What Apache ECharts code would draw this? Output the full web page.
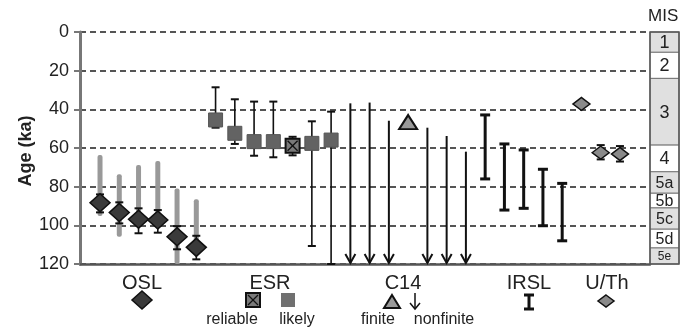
<!DOCTYPE html>
<html><head><meta charset="utf-8">
<script src="https://cdn.jsdelivr.net/npm/echarts@6/dist/echarts.min.js"></script>
<style>html,body{margin:0;padding:0;background:#fff}#c{width:691px;height:327px}</style>
</head><body><div id="c"></div>
<script>
// ---- data ----
const yTicks = [0, 20, 40, 60, 80, 100, 120];
const yTitle = 'Age (ka)';
const methods = ['OSL', 'ESR', 'C14', 'IRSL', 'U/Th'];
// OSL (slot index = sample position along the x axis)
const oslSlot = [0, 1, 2, 3, 4, 5];
const oslAge = [88.3, 93.3, 96.9, 97.3, 105.9, 111.4];
const oslErrLo = [84.0, 88.1, 91.2, 92.1, 100.4, 105.4];
const oslErrHi = [93.3, 99.0, 104.1, 103.8, 112.4, 117.6];
const oslRangeLo = [63.6, 73.6, 68.8, 66.7, 80.9, 86.5];
const oslRangeHi = [95.2, 105.9, 97.0, 98.0, 120.0, 110.0];
// ESR
const esrSlot = [6, 7, 8, 9, 10, 11, 12];
const esrAge = [45.5, 52.4, 56.7, 56.7, 58.8, 57.6, 55.9];
const esrErrLo = [28.6, 34.8, 36.0, 36.0, 54.2, 46.2, 41.2];
const esrErrHi = [49.5, 57.9, 64.0, 64.8, 63.8, 110.7, 120.0];
const esrReliable = [false, false, false, false, true, false, false];
// C14
const c14NonfiniteSlot = [13, 14, 15, 17, 18, 19];
const c14NonfiniteMin = [36.9, 36.5, 45.9, 49.5, 53.8, 61.9];
const c14FiniteSlot = [16];
const c14FiniteAge = [46.6];
// IRSL
const irslSlot = [20, 21, 22, 23, 24];
const irslLo = [42.9, 57.9, 61.0, 71.0, 78.3];
const irslHi = [76.0, 92.1, 91.2, 100.2, 108.0];
// U/Th
const uthSlot = [25, 26, 27];
const uthAge = [37.2, 62.4, 63.1];
const uthErrLo = [null, 58.5, 59.0];
const uthErrHi = [null, 65.9, 67.0];
// MIS stages
const misStages = ['1', '2', '3', '4', '5a', '5b', '5c', '5d', '5e'];
const misBounds = [0, 10.5, 24, 58.5, 72.3, 83.4, 91, 102, 111.7, 120];
const misShaded = [true, false, true, false, true, false, true, false, true];

// ---- build ----
const FONT = 'Liberation Sans, Arial, sans-serif';
const chart = echarts.init(document.getElementById('c'), null, {renderer: 'canvas'});

function errRows(slots, lo, hi) {
  const r = [];
  slots.forEach((s, i) => { if (lo[i] != null) r.push([s, lo[i], hi[i]]); });
  return r;
}
function makeErr(lw, capW, capLw) {
  return function (params, api) {
    const x = api.value(0);
    const p1 = api.coord([x, api.value(1)]), p2 = api.coord([x, api.value(2)]);
    const st = {stroke: '#111', lineWidth: lw};
    const cs = {stroke: '#111', lineWidth: capLw};
    return {type: 'group', children: [
      {type: 'line', shape: {x1: p1[0], y1: p1[1], x2: p2[0], y2: p2[1]}, style: st},
      {type: 'line', shape: {x1: p1[0] - capW / 2, y1: p1[1], x2: p1[0] + capW / 2, y2: p1[1]}, style: cs},
      {type: 'line', shape: {x1: p2[0] - capW / 2, y1: p2[1], x2: p2[0] + capW / 2, y2: p2[1]}, style: cs}
    ]};
  };
}

const thinErr = errRows(oslSlot, oslErrLo, oslErrHi)
  .concat(errRows(esrSlot, esrErrLo, esrErrHi))
  .concat(errRows(uthSlot, uthErrLo, uthErrHi));

function label(text, x, y, fs) {
  return {type: 'text', x: x, y: y, style: {text: text, fontSize: fs, fontFamily: FONT, fill: '#222', align: 'center', verticalAlign: 'middle'}};
}

const option = {
  animation: false,
  grid: {left: 80, right: 41, top: 32, bottom: 63},
  xAxis: {
    type: 'value', min: -1.04, max: 28.56,
    axisLine: {show: true, onZero: false, lineStyle: {color: '#555', width: 2.5}},
    axisTick: {show: false}, axisLabel: {show: false}, splitLine: {show: false}
  },
  yAxis: {
    type: 'value', inverse: true, min: yTicks[0], max: yTicks[yTicks.length - 1], interval: 20,
    axisLine: {show: true, onZero: false, lineStyle: {color: '#777', width: 3}},
    axisTick: {show: true, length: 6, lineStyle: {color: '#777', width: 2}},
    axisLabel: {fontSize: 18, color: '#222', margin: 11, fontFamily: FONT},
    splitLine: {show: true, lineStyle: {color: '#555', width: 2, type: [6, 4]}}
  },
  series: [
    { // OSL grey ranges
      type: 'custom', data: oslSlot.map((s, i) => [s, oslRangeLo[i], oslRangeHi[i]]),
      renderItem: function (params, api) {
        const x = api.value(0);
        const p1 = api.coord([x, api.value(1)]), p2 = api.coord([x, api.value(2)]);
        return {type: 'rect', shape: {x: p1[0] - 2.5, y: p1[1], width: 5, height: p2[1] - p1[1], r: 2},
          style: {fill: '#999'}};
      }
    },
    {type: 'custom', data: thinErr, renderItem: makeErr(1.6, 8, 2)},
    {type: 'custom', data: irslSlot.map((s, i) => [s, irslLo[i], irslHi[i]]), renderItem: makeErr(3, 10, 3)},
    { // C14 nonfinite arrows
      type: 'custom', data: c14NonfiniteSlot.map((s, i) => [s, c14NonfiniteMin[i]]),
      renderItem: function (params, api) {
        const x = api.value(0);
        const p1 = api.coord([x, api.value(1)]), p2 = api.coord([x, yTicks[yTicks.length - 1]]);
        const st = {stroke: '#111', lineWidth: 2, fill: null};
        return {type: 'group', children: [
          {type: 'line', shape: {x1: p1[0], y1: p1[1], x2: p2[0], y2: p2[1] - 1}, style: st},
          {type: 'polyline', shape: {points: [[p2[0] - 5, p2[1] - 10], [p2[0], p2[1] - 1], [p2[0] + 5, p2[1] - 10]]}, style: st}
        ]};
      }
    },
    { // MIS column
      type: 'custom', clip: false,
      data: misStages.map((s, i) => [misBounds[i], misBounds[i + 1], i]),
      renderItem: function (params, api) {
        const cs = params.coordSys;
        const i = api.value(2);
        const y1 = api.coord([0, api.value(0)])[1], y2 = api.coord([0, api.value(1)])[1];
        const x0 = cs.x + cs.width, w = 29;
        const lab = misStages[i];
        const fs = i === misStages.length - 1 ? 12 : (lab.length > 1 ? 16 : 18);
        return {type: 'group', children: [
          {type: 'rect', shape: {x: x0, y: y1, width: w, height: y2 - y1},
            style: {fill: misShaded[i] ? '#e0e0e0' : '#fff', stroke: '#777', lineWidth: 1}},
          {type: 'text', style: {text: lab, x: x0 + w / 2, y: (y1 + y2) / 2 + 1, align: 'center', verticalAlign: 'middle',
            fontSize: fs, fontFamily: FONT, fill: '#222'}}
        ]};
      }
    },
    {
      type: 'custom', clip: false, data: [[misBounds[0], misBounds[misBounds.length - 1]]],
      renderItem: function (params, api) {
        const cs = params.coordSys;
        const y1 = api.coord([0, api.value(0)])[1], y2 = api.coord([0, api.value(1)])[1];
        return {type: 'rect', shape: {x: cs.x + cs.width, y: y1, width: 29, height: y2 - y1},
          style: {fill: null, stroke: '#555', lineWidth: 1.5}};
      }
    },
    { // OSL diamonds
      type: 'scatter', symbol: 'diamond', symbolSize: [20, 18],
      data: oslSlot.map((s, i) => [s, oslAge[i]]),
      itemStyle: {color: '#3a3a3a', borderColor: '#111', borderWidth: 1.5, opacity: 1}
    },
    { // ESR likely
      type: 'scatter', symbol: 'rect', symbolSize: 14,
      data: esrSlot.map((s, i) => [s, esrAge[i]]).filter((d, i) => !esrReliable[i]),
      itemStyle: {color: '#636363', borderColor: '#555', borderWidth: 1, opacity: 1}
    },
    { // ESR reliable
      type: 'custom',
      data: esrSlot.map((s, i) => [s, esrAge[i]]).filter((d, i) => esrReliable[i]),
      renderItem: function (params, api) {
        const p = api.coord([api.value(0), api.value(1)]);
        const h = 7;
        const st = {stroke: '#111', lineWidth: 1.3};
        return {type: 'group', children: [
          {type: 'rect', shape: {x: p[0] - h, y: p[1] - h, width: 2 * h, height: 2 * h}, style: {fill: '#7a7a7a', stroke: '#111', lineWidth: 2}},
          {type: 'line', shape: {x1: p[0] - h + 2, y1: p[1] - h + 2, x2: p[0] + h - 2, y2: p[1] + h - 2}, style: st},
          {type: 'line', shape: {x1: p[0] - h + 2, y1: p[1] + h - 2, x2: p[0] + h - 2, y2: p[1] - h + 2}, style: st}
        ]};
      }
    },
    { // C14 finite
      type: 'scatter', symbol: 'triangle', symbolSize: [18, 14],
      data: c14FiniteSlot.map((s, i) => [s, c14FiniteAge[i]]),
      itemStyle: {color: '#999', borderColor: '#111', borderWidth: 2, opacity: 1}
    },
    { // U/Th
      type: 'scatter', symbol: 'diamond', symbolSize: [17, 13],
      data: uthSlot.map((s, i) => [s, uthAge[i]]),
      itemStyle: {color: '#8a8a8a', borderColor: '#111', borderWidth: 1.5, opacity: 1}
    }
  ],
  graphic: [
    {type: 'text', x: 26, y: 151, rotation: Math.PI / 2,
      style: {text: yTitle, fontSize: 18, fontWeight: 'bold', fontFamily: FONT, fill: '#222', align: 'center', verticalAlign: 'middle'}},
    {type: 'text', left: 648, top: 8, style: {text: 'MIS', fontSize: 17, fontFamily: FONT, fill: '#222'}},
    // method labels
    label(methods[0], 142, 283, 20),
    label(methods[1], 270, 283, 20),
    label(methods[2], 403, 283, 20),
    label(methods[3], 529, 283, 20),
    label(methods[4], 607, 283, 20),
    // OSL key
    {type: 'polygon', shape: {points: [[142, 291], [152, 300], [142, 309], [132, 300]]}, style: {fill: '#3a3a3a', stroke: '#111', lineWidth: 1.5}},
    // ESR key
    {type: 'rect', shape: {x: 246, y: 293, width: 14, height: 14}, style: {fill: '#7a7a7a', stroke: '#111', lineWidth: 2}},
    {type: 'line', shape: {x1: 248, y1: 295, x2: 258, y2: 305}, style: {stroke: '#111', lineWidth: 1.3}},
    {type: 'line', shape: {x1: 248, y1: 305, x2: 258, y2: 295}, style: {stroke: '#111', lineWidth: 1.3}},
    {type: 'rect', shape: {x: 281, y: 293, width: 14, height: 14}, style: {fill: '#707070'}},
    label('reliable', 232, 320, 16),
    label('likely', 297, 320, 16),
    // C14 key
    {type: 'polygon', shape: {points: [[392, 295], [400, 308], [384, 308]]}, style: {fill: '#999', stroke: '#111', lineWidth: 2}},
    {type: 'line', shape: {x1: 415, y1: 293, x2: 415, y2: 309}, style: {stroke: '#111', lineWidth: 1.5}},
    {type: 'polyline', shape: {points: [[410, 303], [415, 309], [420, 303]]}, style: {stroke: '#111', lineWidth: 1.5, fill: null}},
    label('finite', 378, 320, 16),
    label('nonfinite', 444, 320, 16),
    // IRSL key
    {type: 'line', shape: {x1: 529, y1: 295, x2: 529, y2: 309}, style: {stroke: '#111', lineWidth: 3}},
    {type: 'line', shape: {x1: 524, y1: 295, x2: 534, y2: 295}, style: {stroke: '#111', lineWidth: 3}},
    {type: 'line', shape: {x1: 524, y1: 309, x2: 534, y2: 309}, style: {stroke: '#111', lineWidth: 3}},
    // U/Th key
    {type: 'polygon', shape: {points: [[606, 295], [614, 301], [606, 307], [598, 301]]}, style: {fill: '#8a8a8a', stroke: '#111', lineWidth: 1.5}}
  ]
};
chart.setOption(option);
</script></body></html>
